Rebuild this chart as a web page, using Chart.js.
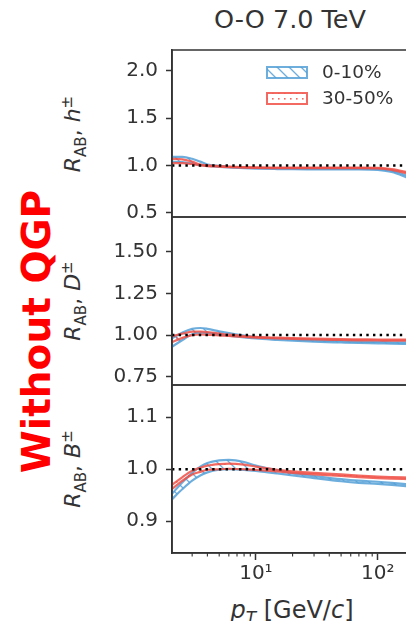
<!DOCTYPE html>
<html lang="en">
  <head>
    <meta charset="UTF-8">
    <title>RAB O-O 7.0 TeV</title>
    <script src="https://cdn.jsdelivr.net/npm/chart.js"></script>
    <style>
      body { margin: 0; width: 406px; height: 621px; overflow: hidden; background: #fff; position: relative;
             font-family: "DejaVu Sans", sans-serif; color: #333; }
      canvas { position: absolute; left: 0; }
      .txt { position: absolute; white-space: nowrap; text-align: center; }
      .rot { transform: rotate(-90deg); }
    </style>
  </head>

  <body>
    <div class="txt" style="left:190px; top:7px; width:200px; font-size:25.5px; line-height:25px;">O-O 7.0 TeV</div>
    <div class="txt rot" style="left:-124px; top:312px; width:320px; height:39px; font-size:39px; line-height:39px; font-weight:bold; color:#f00;">Without QGP</div>

    <div class="txt rot" style="left:-33px; top:119px; width:200px; height:30px; font-size:22px; line-height:30px;"><i>R</i><sub style="font-size:15px">AB</sub>, <i>h</i><sup style="font-size:15px">±</sup></div>
    <div class="txt rot" style="left:-33px; top:286px; width:200px; height:30px; font-size:22px; line-height:30px;"><i>R</i><sub style="font-size:15px">AB</sub>, <i>D</i><sup style="font-size:15px">±</sup></div>
    <div class="txt rot" style="left:-33px; top:454px; width:200px; height:30px; font-size:22px; line-height:30px;"><i>R</i><sub style="font-size:15px">AB</sub>, <i>B</i><sup style="font-size:15px">±</sup></div>

    <div class="txt" style="left:192px; top:598px; width:200px; font-size:24px; line-height:24px;"><i>p</i><sub style="font-size:17px"><i>T</i></sub> [GeV/<i>c</i>]</div>

    <canvas id="g1" width="410" height="207" style="top:30px"></canvas>
    <canvas id="g2" width="410" height="208" style="top:197px"></canvas>
    <canvas id="g3" width="410" height="256" style="top:365px"></canvas>

    <script>
      // dados
      const pT = [2, 2.5, 3, 3.5, 4, 5, 6, 8, 10, 15, 20, 30, 50, 70, 100, 130, 180]
      const legendas = ["0-10%", "30-50%"]

      const hAzulSup = [1.09, 1.09, 1.07, 1.04, 1.01, 0.995, 0.985, 0.977, 0.973, 0.97, 0.968, 0.967, 0.966, 0.966, 0.962, 0.945, 0.885]
      const hAzulInf = [1.04, 1.035, 1.02, 1.005, 0.995, 0.985, 0.978, 0.97, 0.966, 0.962, 0.96, 0.959, 0.958, 0.958, 0.952, 0.93, 0.865]
      const hVermSup = [1.07, 1.065, 1.04, 1.01, 1.0, 0.993, 0.988, 0.983, 0.98, 0.978, 0.977, 0.977, 0.977, 0.977, 0.975, 0.962, 0.925]
      const hVermInf = [1.025, 1.025, 1.015, 1.0, 0.993, 0.987, 0.982, 0.977, 0.974, 0.972, 0.971, 0.971, 0.971, 0.971, 0.968, 0.952, 0.91]

      const dAzulSup = [0.975, 1.015, 1.037, 1.042, 1.037, 1.022, 1.011, 0.997, 0.988, 0.979, 0.974, 0.968, 0.963, 0.96, 0.958, 0.956, 0.955]
      const dAzulInf = [0.925, 0.97, 1.005, 1.014, 1.012, 1.003, 0.996, 0.986, 0.979, 0.971, 0.966, 0.96, 0.955, 0.952, 0.95, 0.948, 0.947]
      const dVermSup = [0.99, 1.008, 1.02, 1.021, 1.017, 1.009, 1.002, 0.994, 0.989, 0.984, 0.981, 0.978, 0.975, 0.974, 0.973, 0.972, 0.972]
      const dVermInf = [0.955, 0.983, 0.999, 1.003, 1.001, 0.998, 0.994, 0.988, 0.984, 0.979, 0.977, 0.973, 0.97, 0.968, 0.967, 0.966, 0.966]

      const bAzulSup = [0.95, 0.975, 0.993, 1.005, 1.012, 1.017, 1.018, 1.014, 1.007, 0.998, 0.992, 0.987, 0.981, 0.978, 0.976, 0.974, 0.971]
      const bAzulInf = [0.94, 0.962, 0.978, 0.988, 0.994, 0.999, 1.0, 0.999, 0.997, 0.992, 0.988, 0.983, 0.977, 0.974, 0.972, 0.97, 0.967]
      const bVermSup = [0.968, 0.985, 0.997, 1.003, 1.007, 1.01, 1.011, 1.009, 1.005, 0.999, 0.996, 0.993, 0.99, 0.988, 0.986, 0.985, 0.984]
      const bVermInf = [0.96, 0.978, 0.99, 0.995, 0.999, 1.0, 1.001, 1.0, 0.999, 0.996, 0.993, 0.99, 0.987, 0.985, 0.983, 0.982, 0.981]

      const ticksY1 = [0.5, 1.0, 1.5, 2.0]
      const rotulosY1 = ["0.5", "1.0", "1.5", "2.0"]
      const ticksY2 = [0.75, 1.0, 1.25, 1.5]
      const rotulosY2 = ["0.75", "1.00", "1.25", "1.50"]
      const ticksY3 = [0.9, 1.0, 1.1]
      const rotulosY3 = ["0.9", "1.0", "1.1"]
      const ticksX = [10, 100]
      const rotulosX = ["10¹", "10²"]
      const ticksXmenor = [3, 4, 5, 6, 7, 8, 9, 20, 30, 40, 50, 60, 70, 80, 90]
      const linhaRef = 1.0

      const azul = "rgba(85,160,215,0.85)"
      const verm = "rgba(240,80,70,0.85)"
      const cinza = "#333"
      const fonte = "DejaVu Sans"

      const ctxBase = document.getElementById('g1').getContext('2d')

      const hachura = (cor) => {
        const c = document.createElement('canvas')
        c.width = 12; c.height = 12
        const x = c.getContext('2d')
        x.strokeStyle = cor; x.lineWidth = 1.3
        x.beginPath()
        x.moveTo(-2, -2); x.lineTo(14, 14)
        x.moveTo(-2, 10); x.lineTo(2, 14)
        x.moveTo(10, -2); x.lineTo(14, 2)
        x.stroke()
        return ctxBase.createPattern(c, 'repeat')
      }
      const pontos = (cor) => {
        const c = document.createElement('canvas')
        c.width = 6; c.height = 6
        const x = c.getContext('2d')
        x.fillStyle = cor
        x.fillRect(2, 2, 1.6, 1.6)
        return ctxBase.createPattern(c, 'repeat')
      }
      const padAzul = hachura(azul)
      const padVerm = pontos(verm)

      const banda = (sup, inf, cor, padrao, ordem) => [
        { data: pT.map((x, i) => ({x: x, y: sup[i]})), borderColor: cor, borderWidth: 2.2, pointRadius: 0,
          cubicInterpolationMode: 'monotone', fill: false, order: ordem },
        { data: pT.map((x, i) => ({x: x, y: inf[i]})), borderColor: cor, borderWidth: 2.2, pointRadius: 0,
          cubicInterpolationMode: 'monotone', fill: '-1', backgroundColor: padrao, order: ordem }
      ]

      // molduras, linha pontilhada e ticks menores
      const moldura = {
        id: 'moldura',
        afterDatasetsDraw(chart) {
          const {ctx, chartArea: a, scales} = chart
          const y = scales.y.getPixelForValue(linhaRef)
          ctx.save()
          ctx.strokeStyle = '#000'; ctx.lineWidth = 2.4
          ctx.setLineDash([2.4, 4.3])
          ctx.beginPath(); ctx.moveTo(a.left, y); ctx.lineTo(a.right, y); ctx.stroke()
          ctx.setLineDash([])
          ctx.strokeStyle = cinza; ctx.lineWidth = 1.6
          ctx.beginPath()
          ctx.moveTo(a.left, a.top); ctx.lineTo(a.right, a.top)
          ctx.moveTo(a.left, a.bottom); ctx.lineTo(a.right, a.bottom)
          ctx.moveTo(a.left, a.top); ctx.lineTo(a.left, a.bottom)
          ctx.stroke()
          if (chart.options.plugins.moldura && chart.options.plugins.moldura.menores) {
            ctx.lineWidth = 1.1
            ctx.beginPath()
            ticksXmenor.forEach(v => {
              const x = scales.x.getPixelForValue(v)
              ctx.moveTo(x, a.bottom); ctx.lineTo(x, a.bottom + 3.5)
            })
            ctx.stroke()
          }
          ctx.restore()
        }
      }

      const legendaInterna = {
        id: 'legendaInterna',
        afterDraw(chart) {
          const ctx = chart.ctx
          const itens = [[azul, padAzul], [verm, padVerm]]
          ctx.save()
          itens.forEach((it, i) => {
            const yTopo = 37 + i * 26
            ctx.fillStyle = '#fff'
            ctx.fillRect(267, yTopo, 40, 11)
            ctx.fillStyle = it[1]
            ctx.fillRect(267, yTopo, 40, 11)
            ctx.strokeStyle = it[0]; ctx.lineWidth = 2
            ctx.strokeRect(267, yTopo, 40, 11)
            ctx.fillStyle = cinza
            ctx.font = "18.5px '" + fonte + "'"
            ctx.textBaseline = 'middle'
            ctx.fillText(legendas[i], 322, yTopo + 6)
          })
          ctx.restore()
        }
      }

      const criarGrafico = (id, sup1, inf1, sup2, inf2, yMin, yMax, ticksY, rotulosY, comX, extras) => {
        const eixoX = {
          type: 'logarithmic', min: 2.05, max: 177, display: comX,
          afterBuildTicks: (s) => { s.ticks = ticksX.map(v => ({value: v})) },
          ticks: { callback: (v) => rotulosX[ticksX.indexOf(v)], color: cinza, font: {family: fonte, size: 20}, padding: 2,
                   maxRotation: 0, autoSkip: false },
          grid: { drawOnChartArea: false, tickLength: 7, tickColor: cinza, tickWidth: 1.5 },
          border: { display: true, color: cinza, width: 1.6 },
          afterFit: (s) => { if (comX) s.height = 68 }
        }
        return new Chart(document.getElementById(id), {
          type: 'line',
          data: { datasets: [...banda(sup2, inf2, verm, padVerm, 0), ...banda(sup1, inf1, azul, padAzul, 1)] },
          options: {
            responsive: false, animation: false,
            layout: { padding: { top: 20, bottom: comX ? 0 : 20, left: 0, right: 2 } },
            plugins: { legend: { display: false }, tooltip: { enabled: false }, moldura: { menores: comX } },
            scales: {
              x: eixoX,
              y: {
                min: yMin, max: yMax,
                afterBuildTicks: (s) => { s.ticks = ticksY.map(v => ({value: v})) },
                ticks: { callback: (v) => rotulosY[ticksY.indexOf(v)], color: cinza, font: {family: fonte, size: 20}, padding: 8 },
                grid: { drawOnChartArea: false, tickLength: 6, tickColor: cinza, tickWidth: 1.5 },
                border: { display: true, color: cinza, width: 1.6 },
                afterFit: (s) => { s.width = 172 }
              }
            }
          },
          plugins: [moldura, ...extras]
        })
      }

      let grafico1 = criarGrafico('g1', hAzulSup, hAzulInf, hVermSup, hVermInf, 0.455, 2.22, ticksY1, rotulosY1, false, [legendaInterna])
      let grafico2 = criarGrafico('g2', dAzulSup, dAzulInf, dVermSup, dVermInf, 0.70, 1.708, ticksY2, rotulosY2, false, [])
      let grafico3 = criarGrafico('g3', bAzulSup, bAzulInf, bVermSup, bVermInf, 0.839, 1.162, ticksY3, rotulosY3, true, [])
    </script>
  </body>
</html>
